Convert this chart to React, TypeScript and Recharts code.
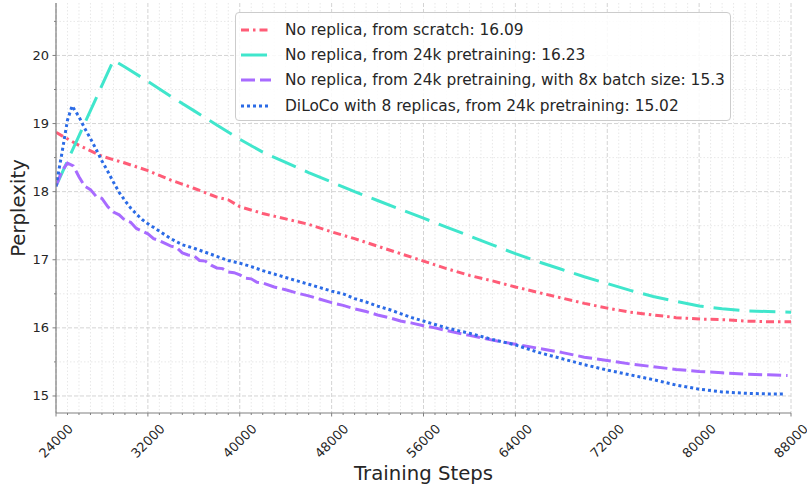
import React from 'react';
import { LineChart, Line, XAxis, YAxis, CartesianGrid, Legend } from 'recharts';

const seriesNames = [
  'No replica, from scratch: 16.09',
  'No replica, from 24k pretraining: 16.23',
  'No replica, from 24k pretraining, with 8x batch size: 15.3',
  'DiLoCo with 8 replicas, from 24k pretraining: 15.02',
];
const seriesColors = ['#ff5c77', '#40e6cc', '#a86bff', '#2b6be6'];
const seriesDashes = ['8 4 2.5 4', '26 10', '14 5', '3 3'];

const redSteps = [24000, 26000, 28000, 30000, 32000, 34000, 36000, 38000, 39000, 40000, 42000, 44000, 46000, 48000, 50000, 52000, 54000, 56000, 58000, 60000, 62000, 64000, 66000, 68000, 70000, 72000, 74000, 76000, 78000, 80000, 82000, 84000, 86000, 88000];
const redValues = [18.87, 18.68, 18.52, 18.42, 18.31, 18.17, 18.05, 17.92, 17.88, 17.78, 17.68, 17.6, 17.52, 17.41, 17.31, 17.2, 17.09, 16.98, 16.87, 16.77, 16.69, 16.6, 16.52, 16.44, 16.36, 16.29, 16.23, 16.19, 16.15, 16.13, 16.12, 16.1, 16.09, 16.09];

const cyanSteps = [24000, 29000, 30000, 32000, 34000, 36000, 38000, 40000, 42000, 44000, 46000, 48000, 50000, 52000, 54000, 56000, 58000, 60000, 62000, 64000, 66000, 68000, 70000, 72000, 74000, 76000, 78000, 80000, 82000, 84000, 86000, 88000];
const cyanValues = [18.08, 19.93, 19.83, 19.62, 19.4, 19.19, 18.98, 18.77, 18.58, 18.43, 18.28, 18.14, 18.0, 17.87, 17.74, 17.61, 17.48, 17.35, 17.22, 17.09, 16.97, 16.86, 16.75, 16.65, 16.55, 16.46, 16.39, 16.32, 16.28, 16.25, 16.24, 16.23];

const purpleSteps = [24000, 24500, 25000, 25500, 26000, 26500, 27000, 27500, 28000, 28500, 29000, 29500, 30000, 30500, 31000, 31500, 32000, 32500, 33000, 33500, 34000, 34500, 35000, 35500, 36000, 36500, 37000, 37500, 38000, 38500, 39000, 39500, 40000, 40500, 41000, 41500, 42000, 43000, 44000, 45000, 46000, 47000, 48000, 49000, 50000, 51000, 52000, 53000, 54000, 55000, 56000, 57000, 58000, 60000, 62000, 64000, 66000, 68000, 70000, 72000, 74000, 76000, 78000, 80000, 82000, 84000, 86000, 87700];
const purpleValues = [18.08, 18.3, 18.42, 18.38, 18.22, 18.08, 18.03, 17.93, 17.9, 17.78, 17.7, 17.66, 17.58, 17.55, 17.46, 17.42, 17.38, 17.31, 17.28, 17.24, 17.2, 17.18, 17.1, 17.07, 17.06, 16.99, 16.98, 16.92, 16.88, 16.87, 16.82, 16.81, 16.78, 16.73, 16.72, 16.67, 16.66, 16.6, 16.56, 16.51, 16.47, 16.42, 16.37, 16.33, 16.28, 16.24, 16.19, 16.15, 16.1, 16.07, 16.03, 16.0, 15.96, 15.89, 15.82, 15.76, 15.7, 15.64, 15.57, 15.52, 15.47, 15.43, 15.39, 15.36, 15.34, 15.32, 15.31, 15.3];

const blueSteps = [24000, 24500, 25000, 25400, 26000, 26500, 27000, 27500, 28000, 28500, 29000, 29500, 30000, 30500, 31000, 31500, 32000, 33000, 34000, 35000, 36000, 37000, 38000, 39000, 40000, 41000, 42000, 43000, 44000, 45000, 46000, 47000, 48000, 49000, 50000, 51000, 52000, 53000, 54000, 55000, 56000, 57000, 58000, 59000, 60000, 62000, 64000, 66000, 68000, 70000, 72000, 74000, 76000, 78000, 80000, 82000, 84000, 86000, 87500];
const blueValues = [18.08, 18.55, 19.05, 19.26, 19.1, 18.93, 18.78, 18.62, 18.45, 18.3, 18.14, 17.99, 17.87, 17.76, 17.67, 17.59, 17.53, 17.42, 17.31, 17.22, 17.17, 17.11, 17.05, 16.99, 16.95, 16.9, 16.84, 16.79, 16.74, 16.69, 16.64, 16.59, 16.54, 16.5, 16.43, 16.38, 16.32, 16.27, 16.21, 16.15, 16.1, 16.05, 16.0, 15.96, 15.92, 15.83, 15.75, 15.64, 15.55, 15.46, 15.38, 15.31, 15.24, 15.16, 15.1, 15.06, 15.04, 15.03, 15.03];

const xMajorTicks = [24000, 32000, 40000, 48000, 56000, 64000, 72000, 80000, 88000];
const yMajorTicks = [15, 16, 17, 18, 19, 20];
const xAllTicks = Array.from({ length: 65 }, (_, i) => 24000 + i * 1000);
const yAllTicks = [15, 15.5, 16, 16.5, 17, 17.5, 18, 18.5, 19, 19.5, 20, 20.5];
const xMinorTicks = xAllTicks.filter((v) => !xMajorTicks.includes(v));
const yMinorTicks = yAllTicks.filter((v) => !yMajorTicks.includes(v));

const toData = (steps: number[], values: number[]) => steps.map((s, i) => ({ step: s, value: values[i] }));
const seriesData = [
  toData(redSteps, redValues),
  toData(cyanSteps, cyanValues),
  toData(purpleSteps, purpleValues),
  toData(blueSteps, blueValues),
];

const FONT = 'DejaVu Sans';
const TEXT = '#262626';
const SPINE = '#808080';

const XTick = (props: any) => {
  const { x, y, payload } = props;
  const v = payload.value;
  const major = xMajorTicks.includes(v);
  return (
    <g>
      <line x1={x} x2={x} y1={y} y2={y + (major ? 3.5 : 2)} stroke={SPINE} strokeWidth={1} />
      {major && (
        <text
          x={x}
          y={y + 28}
          transform={`rotate(-45 ${x} ${y + 28})`}
          textAnchor="middle"
          dominantBaseline="central"
          fontSize={13}
          fontFamily={FONT}
          fill={TEXT}
        >
          {v}
        </text>
      )}
    </g>
  );
};

const YTick = (props: any) => {
  const { x, y, payload } = props;
  const v = payload.value;
  const major = yMajorTicks.includes(v);
  return (
    <g>
      <line x1={x} x2={x - (major ? 3.5 : 2)} y1={y} y2={y} stroke={SPINE} strokeWidth={1} />
      {major && (
        <text x={x - 7} y={y} textAnchor="end" dominantBaseline="central" fontSize={13} fontFamily={FONT} fill={TEXT}>
          {v}
        </text>
      )}
    </g>
  );
};

const LegendBox = () => (
  <div
    style={{
      border: '1px solid #cccccc',
      borderRadius: 4,
      background: 'rgba(255,255,255,0.85)',
      padding: '4px 8px 2px 5px',
      fontFamily: FONT,
      fontSize: 15.4,
      color: TEXT,
      width: 496,
      boxSizing: 'border-box',
    }}
  >
    {seriesNames.map((name, i) => (
      <div key={name} style={{ display: 'flex', alignItems: 'center', height: 25.3, whiteSpace: 'nowrap' }}>
        <svg width={30} height={10} style={{ marginRight: 14, flex: 'none' }}>
          <line x1={0} x2={30} y1={5} y2={5} stroke={seriesColors[i]} strokeWidth={3} strokeDasharray={seriesDashes[i]} />
        </svg>
        <span>{name}</span>
      </div>
    ))}
  </div>
);

export default function App() {
  return (
    <div style={{ position: 'absolute', left: 0, top: 0, width: 807, height: 486, background: '#fff' }}>
      <LineChart width={807} height={486} margin={{ top: 3, right: 16, left: 0, bottom: 0 }}>
        <CartesianGrid
          horizontalValues={yMinorTicks}
          verticalValues={xMinorTicks}
          stroke="#e8e8e8"
          strokeDasharray="1.5 2"
        />
        <CartesianGrid
          horizontalValues={yMajorTicks}
          verticalValues={xMajorTicks}
          stroke="#d4d4d4"
          strokeDasharray="4 2"
        />
        <XAxis
          dataKey="step"
          type="number"
          domain={[24000, 88000]}
          ticks={xAllTicks}
          interval={0}
          height={73}
          tickSize={0}
          tickMargin={0}
          tickLine={false}
          tick={<XTick />}
          axisLine={{ stroke: SPINE, strokeWidth: 1.2 }}
          allowDataOverflow
          label={(p: any) => {
            const vb = p.viewBox;
            return (
              <text x={vb.x + vb.width / 2} y={473} textAnchor="middle" dominantBaseline="central" fontSize={19.7} fontFamily={FONT} fill={TEXT}>
                Training Steps
              </text>
            );
          }}
        />
        <XAxis
          xAxisId="top"
          orientation="top"
          dataKey="step"
          type="number"
          domain={[24000, 88000]}
          height={0}
          tick={false}
          tickLine={false}
          axisLine={{ stroke: SPINE, strokeWidth: 1.2 }}
        />
        <YAxis
          type="number"
          domain={[14.75, 20.77]}
          ticks={yAllTicks}
          interval={0}
          width={56}
          tickSize={0}
          tickMargin={0}
          tickLine={false}
          tick={<YTick />}
          axisLine={{ stroke: SPINE, strokeWidth: 1.2 }}
          allowDataOverflow
          label={(p: any) => {
            const vb = p.viewBox;
            const cy = vb.y + vb.height / 2;
            return (
              <text x={18} y={cy} transform={`rotate(-90 18 ${cy})`} textAnchor="middle" dominantBaseline="central" fontSize={19.7} fontFamily={FONT} fill={TEXT}>
                Perplexity
              </text>
            );
          }}
        />
        <YAxis
          yAxisId="right"
          orientation="right"
          type="number"
          domain={[14.75, 20.77]}
          width={0}
          tick={false}
          tickLine={false}
          axisLine={{ stroke: SPINE, strokeWidth: 1.2 }}
        />
        {seriesData.map((d, i) => (
          <Line
            key={seriesNames[i]}
            data={d}
            dataKey="value"
            name={seriesNames[i]}
            type="linear"
            stroke={seriesColors[i]}
            strokeWidth={3}
            strokeDasharray={seriesDashes[i]}
            dot={false}
            activeDot={false}
            isAnimationActive={false}
          />
        ))}
        <Legend
          layout="vertical"
          align="center"
          verticalAlign="middle"
          content={<LegendBox />}
          wrapperStyle={{ position: 'absolute', left: 235, top: 12, width: 'auto', height: 'auto' }}
        />
      </LineChart>
    </div>
  );
}
